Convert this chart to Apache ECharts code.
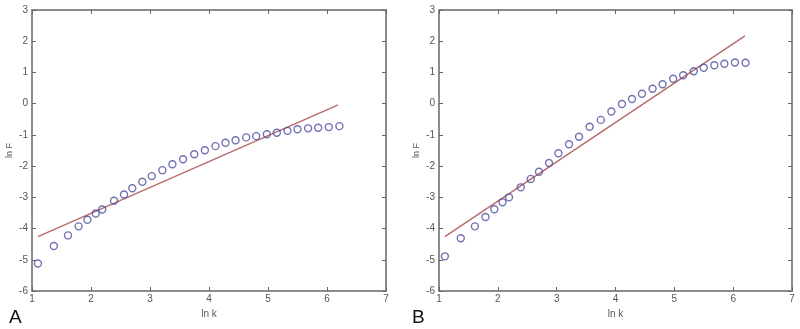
<!DOCTYPE html>
<html>
<head>
<meta charset="utf-8">
<script src="https://cdn.jsdelivr.net/npm/echarts@6/dist/echarts.min.js"></script>
<style>
  html, body { margin: 0; padding: 0; background: #fff; }
  #chart { width: 800px; height: 329px; }
</style>
</head>
<body>
<div id="chart"></div>
<script>
// ln k values of the points (same for both panels)
var lnK = [1.10, 1.37, 1.61, 1.79, 1.94, 2.08, 2.19, 2.39, 2.56, 2.70,
    2.87, 3.03, 3.21, 3.38, 3.56, 3.75, 3.93, 4.11, 4.28, 4.45,
    4.63, 4.80, 4.98, 5.15, 5.33, 5.50, 5.68, 5.85, 6.03, 6.21];
// panel A ln F
var lnFA = [-5.12, -4.56, -4.22, -3.93, -3.72, -3.52, -3.39, -3.11, -2.91, -2.71,
    -2.50, -2.32, -2.13, -1.94, -1.78, -1.62, -1.49, -1.36, -1.25, -1.17,
    -1.08, -1.04, -0.98, -0.93, -0.87, -0.82, -0.79, -0.77, -0.75, -0.72];
// panel B ln F
var lnFB = [-4.89, -4.31, -3.93, -3.63, -3.38, -3.16, -3.00, -2.68, -2.41, -2.18,
    -1.90, -1.59, -1.30, -1.06, -0.74, -0.52, -0.25, -0.01, 0.15, 0.32,
    0.48, 0.62, 0.80, 0.91, 1.04, 1.15, 1.23, 1.28, 1.32, 1.31];
// fitted lines, end points [x, y]
var fitA = [[1.10, -4.26], [6.19, -0.04]];
var fitB = [[1.10, -4.26], [6.20, 2.17]];
var panelLetters = ['A', 'B'];

var chart = echarts.init(document.getElementById('chart'));

var frameColor = '#8c8c8c';
var labelStyle = { color: '#555', fontSize: 10, fontFamily: 'Liberation Sans' };

function xAxisFor(idx, pos) {
    var main = pos === 'bottom';
    return {
        type: 'value', gridIndex: idx, position: pos,
        min: 1, max: 7, interval: 1,
        name: main ? 'ln k' : '', nameLocation: 'middle', nameGap: 14,
        nameTextStyle: { color: '#555', fontSize: 10, fontFamily: 'Liberation Sans' },
        axisLine: { show: true, onZero: false, lineStyle: { color: frameColor, width: 2 } },
        axisTick: { show: true, inside: true, length: 4, lineStyle: { color: '#666' } },
        axisLabel: Object.assign({ show: main, margin: 3 }, labelStyle),
        splitLine: { show: false }
    };
}
function yAxisFor(idx, pos) {
    var main = pos === 'left';
    return {
        type: 'value', gridIndex: idx, position: pos,
        min: -6, max: 3, interval: 1,
        name: main ? 'ln F' : '', nameLocation: 'middle', nameGap: 18,
        nameTextStyle: { color: '#555', fontSize: 9, fontFamily: 'Liberation Sans' },
        axisLine: { show: true, onZero: false, lineStyle: { color: frameColor, width: 2 } },
        axisTick: { show: true, inside: true, length: 4, lineStyle: { color: '#666' } },
        axisLabel: Object.assign({ show: main, margin: 4 }, labelStyle),
        splitLine: { show: false }
    };
}

var circleStyle = { color: 'rgba(255,255,255,0)', borderColor: '#4d4f9f', borderWidth: 1.4 };
var lineStyle = { color: '#b86c6c', width: 1.5 };

chart.setOption({
    backgroundColor: '#fff',
    animation: false,
    grid: [
        { left: 32, right: 414, top: 10, bottom: 38 },
        { left: 439, right: 8, top: 10, bottom: 38 }
    ],
    title: [
        { text: panelLetters[0], left: 4, top: 303, textStyle: { fontSize: 19, fontWeight: 'normal', color: '#111', fontFamily: 'Liberation Sans' } },
        { text: panelLetters[1], left: 407, top: 303, textStyle: { fontSize: 19, fontWeight: 'normal', color: '#111', fontFamily: 'Liberation Sans' } }
    ],
    xAxis: [xAxisFor(0, 'bottom'), xAxisFor(0, 'top'), xAxisFor(1, 'bottom'), xAxisFor(1, 'top')],
    yAxis: [yAxisFor(0, 'left'), yAxisFor(0, 'right'), yAxisFor(1, 'left'), yAxisFor(1, 'right')],
    series: [
        {
            type: 'line', xAxisIndex: 0, yAxisIndex: 0, data: fitA,
            showSymbol: false, lineStyle: lineStyle, z: 1
        },
        {
            type: 'scatter', xAxisIndex: 0, yAxisIndex: 0, symbol: 'circle', symbolSize: 7,
            data: lnK.map(function (k, i) { return [k, lnFA[i]]; }),
            itemStyle: circleStyle, z: 2
        },
        {
            type: 'line', xAxisIndex: 2, yAxisIndex: 2, data: fitB,
            showSymbol: false, lineStyle: lineStyle, z: 1
        },
        {
            type: 'scatter', xAxisIndex: 2, yAxisIndex: 2, symbol: 'circle', symbolSize: 7,
            data: lnK.map(function (k, i) { return [k, lnFB[i]]; }),
            itemStyle: circleStyle, z: 2
        }
    ]
});
</script>
</body>
</html>
